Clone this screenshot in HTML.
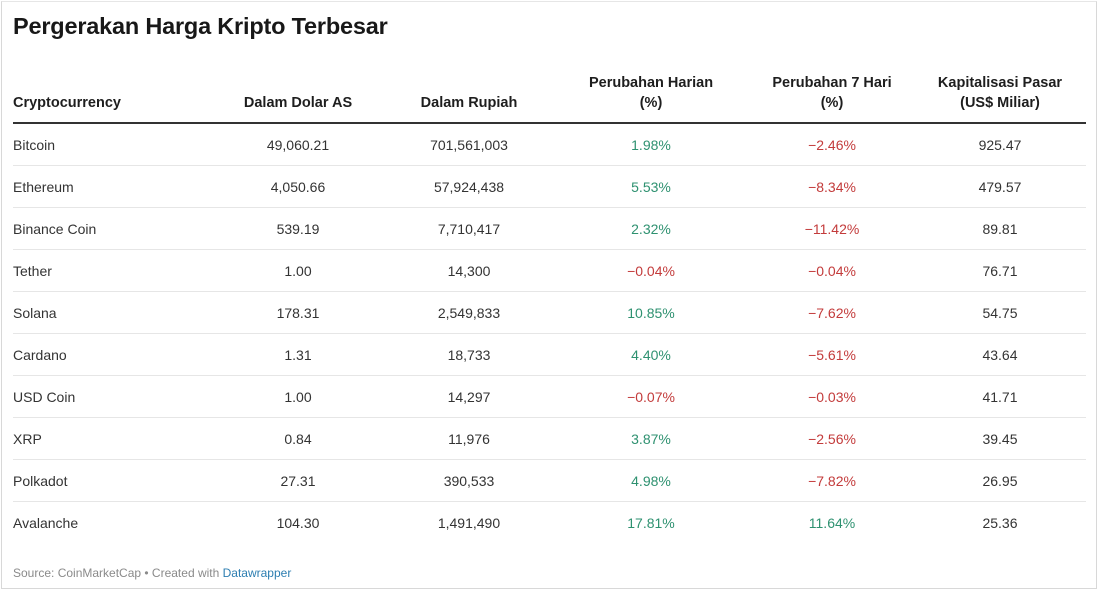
<!DOCTYPE html>
<html><head><meta charset="utf-8">
<style>
html,body{margin:0;padding:0;background:#fff;}
body{width:1100px;height:592px;position:relative;overflow:hidden;font-family:"Liberation Sans",sans-serif;color:#333;}
.frame{position:absolute;left:1px;top:1px;width:1096px;height:588px;border:1px solid #d8d8d8;border-top-color:#e6e6e6;box-sizing:border-box;}
h1{position:absolute;left:13px;top:13px;margin:0;font-size:23.5px;font-weight:bold;color:#181818;letter-spacing:-0.2px;}
table{position:absolute;left:13px;top:61px;border-collapse:collapse;table-layout:fixed;width:1073px;font-size:14px;}
th{font-weight:bold;color:#1e1e1e;font-size:14.5px;vertical-align:bottom;text-align:center;padding:0 0 9px 0;height:52px;line-height:20px;border-bottom:2px solid #333;}
th:first-child{text-align:left;}
td{height:41px;border-bottom:1px solid #e6e6e6;text-align:center;padding:0;}
td:first-child{text-align:left;}
tr:last-child td{border-bottom:none;}
.g{color:#2e9170;} .r{color:#c33b3b;}
.foot{position:absolute;left:13px;top:566px;font-size:12px;color:#8a8a8a;}
.foot span{color:#2d7eb1;}
</style></head><body>
<div class="frame"></div>
<h1>Pergerakan Harga Kripto Terbesar</h1>
<table>
<colgroup><col style="width:197px"><col style="width:176px"><col style="width:166px"><col style="width:198px"><col style="width:164px"><col style="width:172px"></colgroup>
<thead><tr>
<th>Cryptocurrency</th>
<th>Dalam Dolar AS</th>
<th>Dalam Rupiah</th>
<th>Perubahan Harian<br>(%)</th>
<th>Perubahan 7 Hari<br>(%)</th>
<th>Kapitalisasi Pasar<br>(US$ Miliar)</th>
</tr></thead>
<tbody>
<tr><td>Bitcoin</td><td>49,060.21</td><td>701,561,003</td><td class="g">1.98%</td><td class="r">−2.46%</td><td>925.47</td></tr>
<tr><td>Ethereum</td><td>4,050.66</td><td>57,924,438</td><td class="g">5.53%</td><td class="r">−8.34%</td><td>479.57</td></tr>
<tr><td>Binance Coin</td><td>539.19</td><td>7,710,417</td><td class="g">2.32%</td><td class="r">−11.42%</td><td>89.81</td></tr>
<tr><td>Tether</td><td>1.00</td><td>14,300</td><td class="r">−0.04%</td><td class="r">−0.04%</td><td>76.71</td></tr>
<tr><td>Solana</td><td>178.31</td><td>2,549,833</td><td class="g">10.85%</td><td class="r">−7.62%</td><td>54.75</td></tr>
<tr><td>Cardano</td><td>1.31</td><td>18,733</td><td class="g">4.40%</td><td class="r">−5.61%</td><td>43.64</td></tr>
<tr><td>USD Coin</td><td>1.00</td><td>14,297</td><td class="r">−0.07%</td><td class="r">−0.03%</td><td>41.71</td></tr>
<tr><td>XRP</td><td>0.84</td><td>11,976</td><td class="g">3.87%</td><td class="r">−2.56%</td><td>39.45</td></tr>
<tr><td>Polkadot</td><td>27.31</td><td>390,533</td><td class="g">4.98%</td><td class="r">−7.82%</td><td>26.95</td></tr>
<tr><td>Avalanche</td><td>104.30</td><td>1,491,490</td><td class="g">17.81%</td><td class="g">11.64%</td><td>25.36</td></tr>
</tbody></table>
<div class="foot">Source: CoinMarketCap • Created with <span>Datawrapper</span></div>
</body></html>
